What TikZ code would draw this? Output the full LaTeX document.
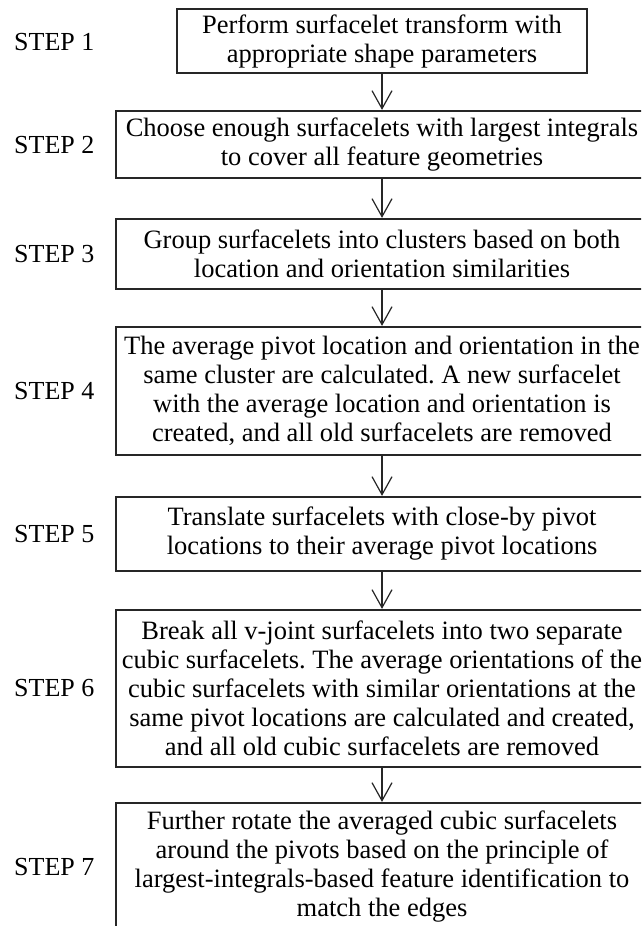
\documentclass[tikz,border=0pt]{standalone}
\usepackage{fontspec}
\setmainfont{Liberation Serif}
\usetikzlibrary{arrows.meta}
\tikzset{
  stepbox/.style={draw=black!85, line width=2.2pt, inner sep=0pt, align=center,
    font=\fontsize{26.5}{29}\selectfont\frenchspacing, minimum width=532pt},
  steplabel/.style={anchor=west, inner sep=0pt, font=\fontsize{26}{29}\selectfont},
  flow/.style={draw=black!85, line width=1.2pt,
    -{Straight Barb[length=18pt,width=20pt,line width=1.2pt]}}
}
\begin{document}
\begin{tikzpicture}[x=1pt,y=-1pt]
\useasboundingbox (0,0) rectangle (641,926);
\clip (0,0) rectangle (641,926);
\node[stepbox, minimum width=410pt, minimum height=64pt] (b1) at (382,41)
  {Perform surfacelet transform with\\appropriate shape parameters};
\node[stepbox, minimum height=67pt] (b2) at (382,144.5)
  {Choose enough surfacelets with largest integrals\\to cover all feature geometries};
\node[stepbox, minimum height=70pt] (b3) at (382,254)
  {Group surfacelets into clusters based on both\\location and orientation similarities};
\node[stepbox, minimum height=128pt] (b4) at (382,391)
  {The average pivot location and orientation in the\\same cluster are calculated. A new surfacelet\\with the average location and orientation is\\created, and all old surfacelets are removed};
\node[stepbox, minimum height=74pt] (b5) at (382,534)
  {Translate surfacelets with close-by pivot\\locations to their average pivot locations};
\node[stepbox, minimum height=157pt] (b6) at (382,688.5)
  {Break all v-joint surfacelets into two separate\\cubic surfacelets. The average orientations of the\\cubic surfacelets with similar orientations at the\\same pivot locations are calculated and created,\\and all old cubic surfacelets are removed};
\node[stepbox, minimum height=128pt] (b7) at (382,867)
  {Further rotate the averaged cubic surfacelets\\around the pivots based on the principle of\\largest-integrals-based feature identification to\\match the edges};
\node[steplabel] (s1) at (14,42) {STEP 1};
\node[steplabel] (s2) at (14,145) {STEP 2};
\node[steplabel] (s3) at (14,254) {STEP 3};
\node[steplabel] (s4) at (14,391) {STEP 4};
\node[steplabel] (s5) at (14,534) {STEP 5};
\node[steplabel] (s6) at (14,688.5) {STEP 6};
\node[steplabel] (s7) at (14,867) {STEP 7};
\draw[flow] (b1.south) -- (b2.north);
\draw[flow] (b2.south) -- (b3.north);
\draw[flow] (b3.south) -- (b4.north);
\draw[flow] (b4.south) -- (b5.north);
\draw[flow] (b5.south) -- (b6.north);
\draw[flow] (b6.south) -- (b7.north);
\end{tikzpicture}
\end{document}
